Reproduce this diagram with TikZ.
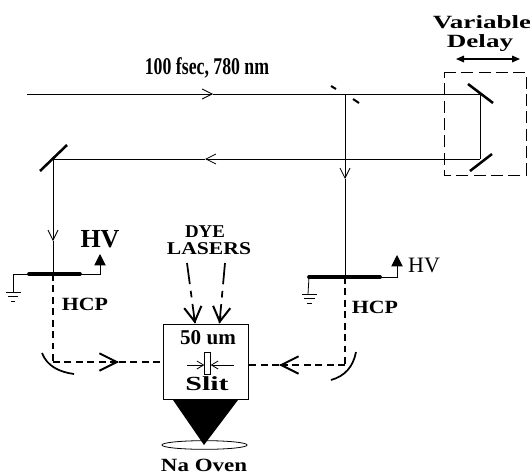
\documentclass[tikz,border=0pt]{standalone}
\usepackage{fontspec}
\setmainfont{Liberation Serif}
\usetikzlibrary{arrows.meta,calc,shapes.geometric}
\tikzset{every picture/.style={line width=0.75pt}}
\tikzset{beam/.style={draw,line width=0.7pt},
  beamtip/.style={beam,-{Straight Barb[length=7.5pt,width=7.5pt,line width=0.6pt]}},
  fluor/.style={draw,line width=1.9pt,dash pattern={on 5pt off 3.6pt}},
  fluortip/.style={draw,line width=1.4pt,-{Straight Barb[length=13pt,width=13pt,line width=1.5pt]}},
  dyeline/.style={draw,line width=1.3pt,dash pattern={on 16pt off 5pt on 5pt off 5pt}},
  dyetip/.style={draw,line width=1.3pt,-{Straight Barb[length=11pt,width=13pt,line width=1.5pt]}},
  mirror/.style={draw,line width=1.9pt},
  plate/.style={draw,line width=2.8pt,line cap=round},
  hvtip/.style={draw,line width=0.75pt,-{Triangle[length=8.5pt,width=8.5pt]}},
  tag/.style={inner sep=0pt,transform shape,yscale=-1}}

\begin{document}
\begin{tikzpicture}[x=0.75pt,y=0.75pt,yscale=-1,xscale=1]
\useasboundingbox (0,0) rectangle (530,474);

%Beam points
\coordinate (laser) at (27,94);
\coordinate (laserTip) at (213,94);
\coordinate (split) at (345,94);
\coordinate (delayTop) at (480,94);
\coordinate (delayBot) at (480,159);
\coordinate (backTip) at (205,159);
\coordinate (foldL) at (53,159);
\coordinate (downTipL) at (53,241);
\coordinate (plateL) at (53,274);
\coordinate (downTipR) at (345,179);
\coordinate (plateR) at (345,277);
\coordinate (focusL) at (53,362);
\coordinate (focusR) at (345,365);
\coordinate (tipL) at (119,362);
\coordinate (tipR) at (279,365);

%Shape: Rectangle
\node [draw,line width=0.75pt,minimum width=63.75pt,minimum height=56.25pt,inner sep=0pt] (slitbox) at (205.5,361.5) {};
%Shape: Rectangle
\node [draw,line width=0.75pt,minimum width=4pt,minimum height=16.5pt,inner sep=0pt] (slit) at (207.5,363) {};
%Shape: Rectangle
\draw [line width=0.6pt,dash pattern={on 9pt off 4pt}] (444,72) -- (526,72) -- (526,175) -- (444,175) -- cycle ;

%Straight Lines
\draw [beamtip] (laser) -- (laserTip) ;
\draw [beam] (laserTip) -- (split) ;
\draw [beam] (split) -- (delayTop) ;
\draw [beam] (delayTop) -- (delayBot) ;
\draw [beamtip] (delayBot) -- (backTip) ;
\draw [beam] (backTip) -- (foldL) ;
\draw [beamtip] (foldL) -- (downTipL) ;
\draw [beam] (downTipL) -- (plateL) ;
\draw [beamtip] (split) -- (downTipR) ;
\draw [beam] (downTipR) -- (plateR) ;

%Mirrors
\draw [mirror] (468,84) -- (493,103) ;
\draw [mirror] (470,171) -- (492,154) ;
\draw [mirror] (40,171) -- (67,145) ;
\draw [line width=1.5pt] (331,86) -- (336,89) ;
\draw [line width=1.5pt] (353,99) -- (359,103) ;

%Plates with leads and grounds
\draw [plate] (29,274) -- (80,274) ;
\draw [plate] (309,277) -- (380,277) ;
\draw [line width=0.6pt] (28,274) -- (13,274) -- (13,292) ;
\draw [line width=0.6pt] (6,292) -- (21,292) ;
\draw [line width=0.6pt] (8,296.5) -- (18,296.5) ;
\draw [line width=0.6pt] (11,301) -- (15,301) ;
\draw [line width=0.6pt] (309,277) -- (308,294) ;
\draw [line width=0.6pt] (302,294) -- (317,294) ;
\draw [line width=0.6pt] (304,298.5) -- (315,298.5) ;
\draw [line width=0.6pt] (307,303) -- (312,303) ;
\draw [hvtip] (80,274) -- (100,274) -- (100,254) ;
\draw [hvtip] (380,277) -- (397,277) -- (397,255) ;

%Dashed fluorescence
\draw [fluor] (plateL) -- (focusL) ;
\draw [fluor] (plateR) -- (focusR) ;
\draw [fluor] (focusL) -- (tipL) ;
\draw [fluortip] ($(tipL)+(-1,0)$) -- (tipL) ;
\draw [fluor] (tipL) -- (slitbox.west |- tipL) ;
\draw [fluor] (focusR) -- (tipR) ;
\draw [fluortip] ($(tipR)+(1,0)$) -- (tipR) ;
\draw [fluor] (tipR) -- (slitbox.east |- tipR) ;

%Curve Lines
\draw [line width=1.3pt] (42,353) .. controls (47,366) and (59,372) .. (74,374) ;
\draw [line width=1.3pt] (356,352) .. controls (353,367) and (345,376) .. (331,380) ;

%Dye laser lines
\coordinate (dyeA) at (187,263);
\coordinate (dyeB) at (225,263);
\draw [dyeline] (dyeA) -- (195,323) ;
\draw [dyeline] (dyeB) -- (219.5,323) ;
\draw [dyetip] (194,316) -- (195,323.5) ;
\draw [dyetip] (220.5,316) -- (219.5,323.5) ;

%Slit arrows
\coordinate (slitInL) at (187,365);
\coordinate (slitInR) at (234,365);
\draw [line width=0.6pt,-{Straight Barb[length=5pt,width=6pt,line width=0.6pt]}] (slitInL) -- (slit.west |- slitInL) ;
\draw [line width=0.6pt,-{Straight Barb[length=5pt,width=6pt,line width=0.6pt]}] (slitInR) -- (slit.east |- slitInR) ;

%Oven
\node [draw,ellipse,line width=0.6pt,minimum width=64pt,minimum height=6.5pt,inner sep=0pt] (oven) at (204.5,445) {};
\fill (173,400) -- (238,400) -- (204,445) -- cycle ;

%Delay arrow
\draw [line width=0.8pt,{Triangle[length=6pt,width=5pt]}-{Triangle[length=6pt,width=5pt]}] (456,59) -- (520,59) ;

% Text Node
\node [tag,font=\bfseries\fontsize{18}{18}\selectfont,xscale=0.74] (pulse) at (207,68) {100 fsec, 780 nm};
% Text Node
\node [tag,font=\bfseries\fontsize{14}{14}\selectfont,xscale=1.45] (variable) at (482,22) {Variable};
% Text Node
\node [tag,font=\bfseries\fontsize{14}{14}\selectfont,xscale=1.45] (delay) at (480,43) {Delay};
% Text Node
\node [tag,font=\bfseries\fontsize{19.5}{19.5}\selectfont] (hvL) at (100,239) {HV};
% Text Node
\node [tag,font=\fontsize{16.5}{16.5}\selectfont] (hvR) at (424,265) {HV};
% Text Node
\node [tag,font=\bfseries\fontsize{14}{14}\selectfont,xscale=1.17] (hcpL) at (85,304) {HCP};
% Text Node
\node [tag,font=\bfseries\fontsize{14}{14}\selectfont,xscale=1.17] (hcpR) at (375,307) {HCP};
% Text Node
\node [tag,font=\bfseries\fontsize{13.5}{13.5}\selectfont,xscale=1.05] (dye) at (205,232) {DYE};
% Text Node
\node [tag,font=\bfseries\fontsize{13.5}{13.5}\selectfont,xscale=1.2] (lasers) at (209,249) {LASERS};
% Text Node
\node [tag,font=\bfseries\fontsize{15.8}{15.8}\selectfont] (width) at (208,338) {50 um};
% Text Node
\node [tag,font=\bfseries\fontsize{15}{15}\selectfont,xscale=1.5] (slitname) at (207,384) {Slit};
% Text Node
\node [tag,font=\bfseries\fontsize{14}{14}\selectfont,xscale=1.23] (ovenname) at (204,465) {Na Oven};

\end{tikzpicture}
\end{document}
